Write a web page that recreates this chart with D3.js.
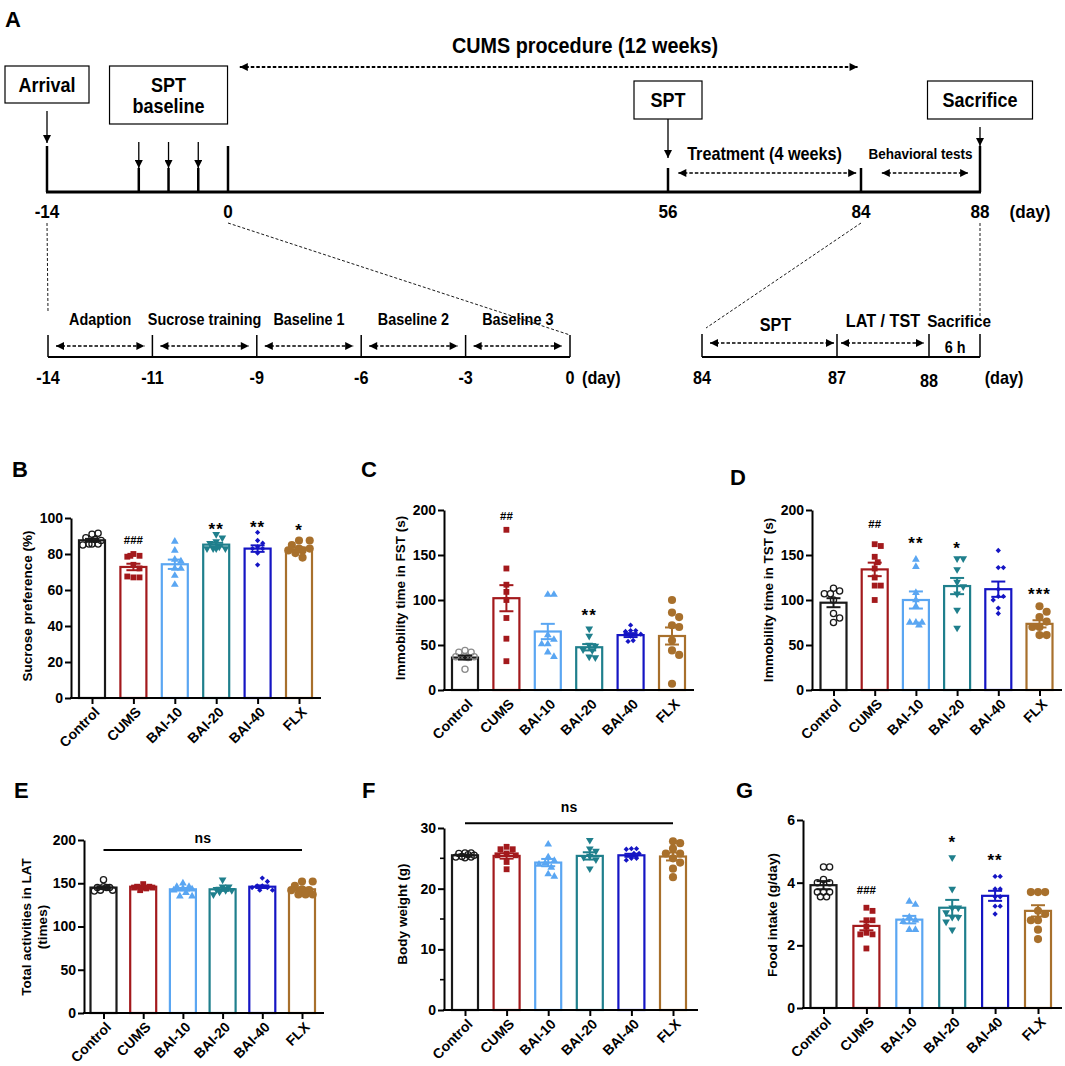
<!DOCTYPE html>
<html>
<head>
<meta charset="utf-8">
<script src="https://cdn.jsdelivr.net/npm/d3@7"></script>
<style>
  body { margin: 0; background: #fff; }
  svg { display: block; }
  text { font-family: "Liberation Sans", Arial, sans-serif; }
</style>
</head>
<body>
<svg id="fig" width="1065" height="1066"></svg>
<script>
// ---------- data ----------
const groups = ['Control', 'CUMS', 'BAI-10', 'BAI-20', 'BAI-40', 'FLX'];

// B: sucrose preference (%)
const sucroseMean = [87.6, 72.8, 74.3, 85.2, 83.0, 82.6];
const sucroseSem = [0.8, 1.8, 2.6, 1.0, 1.8, 1.0];
const sucrosePts = [
  [91, 91.5, 89, 88, 87.5, 85.5, 85, 85.5, 85.5],
  [80, 79, 78.5, 79, 74, 72, 67, 67, 67.5],
  [87, 82, 77, 76, 72, 72, 68, 63],
  [91, 89, 87, 86, 84, 83, 83, 83, 83],
  [92, 87.5, 86, 84, 83, 83, 80.5, 74],
  [87.5, 87.5, 85, 83, 83, 82, 82, 80.5, 78],
];
const sucroseMarks = ['', '###', '', '**', '**', '*'];
const sucroseMarkY = [0, 87.6, 0, 95.9, 97.2, 95.4];

// C: immobility time in FST (s)
const fstMean = [36, 102, 65, 47.5, 61, 60];
const fstSem = [2.2, 14.5, 8.5, 3.5, 2.2, 9.5];
const fstPts = [
  [44, 42, 42, 37, 37, 37, 36, 23],
  [178, 135, 117, 109, 100, 80, 57, 32],
  [106, 106, 61, 56, 51, 51, 42, 37],
  [68, 60, 50, 49, 45, 44, 37, 36],
  [72, 66, 66, 65, 62, 60, 55, 54],
  [100, 86, 81, 72, 70, 55, 44, 39, 7],
];
const fstMarks = ['', '##', '', '**', '', ''];
const fstMarkY = [0, 194, 0, 87, 0, 0];

// D: immobility time in TST (s)
const tstMean = [97, 134, 100, 115.5, 112, 73.5];
const tstSem = [5, 7.5, 9.5, 9, 8.5, 4];
const tstPts = [
  [113, 110, 107, 107, 100, 85, 80, 75],
  [162, 160, 148, 142, 135, 125, 116, 116, 100],
  [145, 137, 108, 100, 93, 75, 75, 75, 72],
  [146, 146, 134, 120, 115, 107, 89, 69],
  [155, 136, 136, 112, 104, 104, 100, 91, 85],
  [93, 87, 81, 76, 70, 70, 61, 61],
];
const tstMarks = ['', '##', '**', '*', '', '***'];
const tstMarkY = [0, 185, 166.7, 162, 0, 111];

// E: total activities in LAT (times)
const latMean = [145, 146, 143, 143, 146, 143];
const latSem = [1.5, 0.8, 1.5, 1.8, 1.5, 1.8];
const latPts = [
  [154, 146, 145, 145, 145, 142, 142, 141],
  [149, 146, 146, 145, 145, 145, 144, 142],
  [150, 146, 146, 144, 143, 142, 139, 135, 135],
  [154, 146, 146, 143, 142, 142, 140, 137],
  [156, 152, 147, 147, 145, 145, 142, 142],
  [152, 152, 147, 143, 142, 142, 137, 137, 137],
];

// F: body weight (g)
const bwMean = [25.5, 25.4, 24.3, 25.4, 25.5, 25.3];
const bwSem = [0.12, 0.45, 0.6, 0.6, 0.25, 0.65];
const bwPts = [
  [25.9, 25.9, 25.8, 25.6, 25.5, 25.3, 25.2, 25.2, 25.1],
  [26.9, 26.5, 26.5, 25.8, 25.5, 25.5, 24.4, 23.2],
  [27.3, 25.2, 24.6, 24.2, 24.0, 23.5, 22.4, 22.0],
  [28, 26.6, 26.2, 25.4, 25.2, 24.8, 23.3],
  [26.6, 26.6, 26.5, 25.8, 25.8, 25.0, 25.0, 24.7],
  [27.8, 27.5, 26.6, 25.8, 25.8, 25.0, 24.3, 23.3, 21.9],
];

// G: food intake (g/day)
const foodMean = [3.92, 2.62, 2.82, 3.2, 3.58, 3.1];
const foodSem = [0.13, 0.14, 0.12, 0.25, 0.16, 0.18];
const foodPts = [
  [4.5, 4.5, 4.1, 4.0, 4.0, 3.7, 3.7, 3.7, 3.55, 3.55],
  [3.2, 3.1, 2.8, 2.8, 2.6, 2.4, 2.35, 2.35, 1.9],
  [3.4, 3.3, 2.9, 2.8, 2.75, 2.5, 2.5],
  [4.8, 3.8, 3.2, 3.2, 3.05, 2.9, 2.9, 2.75, 2.5],
  [4.2, 4.2, 3.8, 3.8, 3.55, 3.55, 3.25, 3.25, 3.0],
  [3.7, 3.7, 3.7, 3.1, 3.0, 2.8, 2.8, 2.5, 2.2],
];
const foodMarks = ['', '###', '', '*', '**', ''];
const foodMarkY = [0, 3.77, 0, 5.41, 4.83, 0];

// A: timeline
const topDays = [-14, 0, 56, 84, 88];
const topDayLabels = ['-14', '0', '56', '84', '88'];
const sptBaselineDays = [-6.9, -4.6, -2.3];
const lowLeftDays = ['-14', '-11', '-9', '-6', '-3', '0'];
const lowLeftPhases = ['Adaption', 'Sucrose training', 'Baseline 1', 'Baseline 2', 'Baseline 3'];
const lowRightDays = [84, 87, 88, 89];
const lowRightLabels = ['84', '87', '88', ''];

// ---------- styles ----------
const colors = ['#1a1a1a', '#a3191c', '#5aa6f2', '#1f7f8c', '#1515c4', '#a8702c'];
const shapes = ['ocircle', 'square', 'triangle', 'tridown', 'diamond', 'circle'];
const font = '"Liberation Sans", Arial, sans-serif';

const svg = d3.select('#fig');
svg.append('rect').attr('width', 1065).attr('height', 1066).attr('fill', '#fff');

const defs = svg.append('defs');
defs.append('marker').attr('id', 'ah')
  .attr('viewBox', '0 0 10 10').attr('refX', 10).attr('refY', 5)
  .attr('markerWidth', 9).attr('markerHeight', 8)
  .attr('markerUnits', 'userSpaceOnUse').attr('orient', 'auto-start-reverse')
  .append('path').attr('d', 'M0,0L10,5L0,10z').attr('fill', '#000');
defs.append('marker').attr('id', 'ahs')
  .attr('viewBox', '0 0 10 10').attr('refX', 10).attr('refY', 5)
  .attr('markerWidth', 10).attr('markerHeight', 8)
  .attr('markerUnits', 'userSpaceOnUse').attr('orient', 'auto-start-reverse')
  .append('path').attr('d', 'M0,0L10,5L0,10z').attr('fill', '#000');

// ---------- panel A ----------
const A = svg.append('g');
A.append('text').attr('x', 5).attr('y', 27).text('A')
  .style('font-size', '22px').style('font-weight', 'bold');

const dayX = d3.scaleLinear().domain(topDays).range([47, 228, 668, 861, 980]);
const lineY = 192;

// slightly condensed bold text, like the narrow face of the original
function ntext(g, x, y, s, size, anchor) {
  return g.append('text').attr('transform', `translate(${x},${y}) scale(0.9,1)`)
    .attr('text-anchor', anchor || 'middle')
    .style('font-family', font).style('font-weight', 'bold').style('font-size', size + 'px').text(s);
}
function dashArrow(g, x1, x2, y, w) {
  g.append('line').attr('x1', x1).attr('x2', x2).attr('y1', y).attr('y2', y)
    .attr('stroke', '#000').attr('stroke-width', w || 1.6).attr('stroke-dasharray', '3.5,2')
    .attr('marker-start', 'url(#ah)').attr('marker-end', 'url(#ah)');
}
function downArrow(g, x, y1, y2) {
  g.append('line').attr('x1', x).attr('x2', x).attr('y1', y1).attr('y2', y2)
    .attr('stroke', '#000').attr('stroke-width', 1.3).attr('marker-end', 'url(#ahs)');
}

ntext(A, 585, 53, 'CUMS procedure (12 weeks)', 22);
dashArrow(A, dayX(1.5), dayX(83.5), 67, 1.8);

// boxes
const boxes = [
  { lines: ['Arrival'], day: -14, w: 84, h: 37, top: 66, arrow: [111, 143] },
  { lines: ['SPT', 'baseline'], day: -4.6, w: 118, h: 58, top: 66, arrow: null },
  { lines: ['SPT'], day: 56, w: 68, h: 38, top: 81, arrow: [119, 158] },
  { lines: ['Sacrifice'], day: 88, w: 105, h: 38, top: 81, arrow: [127, 146] },
];
boxes.forEach(b => {
  const cx = dayX(b.day);
  A.append('rect').attr('x', cx - b.w / 2).attr('y', b.top).attr('width', b.w).attr('height', b.h)
    .attr('fill', '#fff').attr('stroke', '#000').attr('stroke-width', 1.2);
  b.lines.forEach((s, i) => {
    const y0 = b.top + b.h / 2 + 7 - (b.lines.length - 1) * 10.5 + i * 21;
    ntext(A, cx, y0, s, 20);
  });
  if (b.arrow) downArrow(A, cx, b.arrow[0], b.arrow[1]);
});
sptBaselineDays.forEach(d => downArrow(A, dayX(d), 142, 168));

// main line and ticks
A.append('line').attr('x1', dayX(-14) - 1).attr('x2', dayX(88) + 1).attr('y1', lineY).attr('y2', lineY)
  .attr('stroke', '#000').attr('stroke-width', 3);
topDays.forEach((d, i) => {
  const tall = (d === -14 || d === 0 || d === 88);
  A.append('line').attr('x1', dayX(d)).attr('x2', dayX(d)).attr('y1', tall ? 146 : 168).attr('y2', lineY)
    .attr('stroke', '#000').attr('stroke-width', 2.5);
  ntext(A, dayX(d), 218, topDayLabels[i], 19);
});
sptBaselineDays.forEach(d => {
  A.append('line').attr('x1', dayX(d)).attr('x2', dayX(d)).attr('y1', 168).attr('y2', lineY)
    .attr('stroke', '#000').attr('stroke-width', 2.5);
});
ntext(A, 1030, 218, '(day)', 19);

ntext(A, (dayX(56) + dayX(84)) / 2, 160, 'Treatment (4 weeks)', 18);
dashArrow(A, dayX(57.5), dayX(83.3), 173);
ntext(A, (dayX(84) + dayX(88)) / 2, 159, 'Behavioral tests', 15);
dashArrow(A, dayX(84.7), dayX(87.6), 173);

// lower-left timeline
const llX = d3.scalePoint().domain(lowLeftDays).range([48, 570]);
const lowY = 357;
A.append('line').attr('x1', llX('-14')).attr('x2', llX('0')).attr('y1', lowY).attr('y2', lowY)
  .attr('stroke', '#000').attr('stroke-width', 2.2);
lowLeftDays.forEach((d, i) => {
  A.append('line').attr('x1', llX(d)).attr('x2', llX(d)).attr('y1', 335).attr('y2', lowY)
    .attr('stroke', '#000').attr('stroke-width', 1.5);
  ntext(A, llX(d), 384, d, 18);
  if (i < lowLeftPhases.length) {
    const x1 = llX(d), x2 = llX(lowLeftDays[i + 1]);
    ntext(A, (x1 + x2) / 2, 325, lowLeftPhases[i], 16);
    dashArrow(A, x1 + 8, x2 - 8, 346);
  }
});
ntext(A, llX('0') + 12, 384, '(day)', 18, 'start');

// lower-right timeline
const lrX = d3.scaleLinear().domain(lowRightDays).range([702, 837, 929, 980]);
A.append('line').attr('x1', lrX(84)).attr('x2', lrX(89)).attr('y1', lowY).attr('y2', lowY)
  .attr('stroke', '#000').attr('stroke-width', 2.2);
lowRightDays.forEach((d, i) => {
  A.append('line').attr('x1', lrX(d)).attr('x2', lrX(d)).attr('y1', 334).attr('y2', lowY)
    .attr('stroke', '#000').attr('stroke-width', 1.5);
  if (lowRightLabels[i]) ntext(A, lrX(d), d === 88 ? 387 : 384, lowRightLabels[i], 18);
});
ntext(A, 1004, 384, '(day)', 18);
ntext(A, (lrX(84) + lrX(87)) / 2 + 6, 331, 'SPT', 18);
dashArrow(A, lrX(84) + 8, lrX(87) - 3, 343);
ntext(A, (lrX(87) + lrX(88)) / 2, 327, 'LAT / TST', 18);
dashArrow(A, lrX(87) + 4, lrX(88) - 5, 343);
ntext(A, lrX(88.55) + 2, 327, 'Sacrifice', 17);
ntext(A, lrX(88.55) - 2, 353, '6 h', 16);

// zoom guide lines
const guide = (x1, y1, x2, y2) => A.append('line').attr('x1', x1).attr('y1', y1).attr('x2', x2).attr('y2', y2)
  .attr('stroke', '#000').attr('stroke-width', 0.9).attr('stroke-dasharray', '3,2');
guide(dayX(-14), 223, llX('-14'), 312);
guide(dayX(0), 223, llX('0'), 335);
guide(dayX(84), 223, lrX(84) + 4, 328);
guide(dayX(88), 223, lrX(89), 320);

// ---------- bar panels ----------
const panels = [
  { label: 'B', lx: 12, ly: 477, x0: 71, x1: 321, c0: 92, c1: 299, yZero: 698, yTop: 518,
    domain: [0, 100], ticks: [0, 20, 40, 60, 80, 100], minor: [], xTicks: true,
    title: ['Sucrose preference (%)'], tx: 27, ty: 606,
    mean: sucroseMean, sem: sucroseSem, pts: sucrosePts, marks: sucroseMarks, markY: sucroseMarkY },
  { label: 'C', lx: 361, ly: 477, x0: 444, x1: 694, c0: 465, c1: 672, yZero: 690, yTop: 510,
    domain: [0, 200], ticks: [0, 50, 100, 150, 200], minor: [], xTicks: false, grayCtrl: true,
    title: ['Immobility time in FST (s)'], tx: 400, ty: 598,
    mean: fstMean, sem: fstSem, pts: fstPts, marks: fstMarks, markY: fstMarkY },
  { label: 'D', lx: 730, ly: 485, x0: 812, x1: 1062, c0: 833.5, c1: 1039.5, yZero: 690, yTop: 510,
    domain: [0, 200], ticks: [0, 50, 100, 150, 200], minor: [], xTicks: true,
    title: ['Immobility time in TST (s)'], tx: 768, ty: 600,
    mean: tstMean, sem: tstSem, pts: tstPts, marks: tstMarks, markY: tstMarkY },
  { label: 'E', lx: 14, ly: 798, x0: 84, x1: 324, c0: 103.5, c1: 302, yZero: 1013, yTop: 840,
    domain: [0, 200], ticks: [0, 50, 100, 150, 200], minor: [], xTicks: true,
    title: ['Total activities in LAT', '(times)'], tx: 26, ty: 927,
    mean: latMean, sem: latSem, pts: latPts, ns: [188.5, 196] },
  { label: 'F', lx: 362, ly: 798, x0: 444, x1: 698, c0: 465, c1: 673, yZero: 1010, yTop: 828,
    domain: [0, 30], ticks: [0, 10, 20, 30], minor: [5, 15, 25], xTicks: true,
    title: ['Body weight (g)'], tx: 402, ty: 914,
    mean: bwMean, sem: bwSem, pts: bwPts, ns: [30.8, 32.6] },
  { label: 'G', lx: 736, ly: 798, x0: 803, x1: 1062, c0: 823.5, c1: 1038, yZero: 1008, yTop: 820,
    domain: [0, 6], ticks: [0, 2, 4, 6], minor: [], xTicks: true,
    title: ['Food intake (g/day)'], tx: 772, ty: 915,
    mean: foodMean, sem: foodSem, pts: foodPts, marks: foodMarks, markY: foodMarkY },
];

const barW = 26;

function symbolPath(shape) {
  if (shape === 'square') return d3.symbol(d3.symbolSquare, 34)();
  if (shape === 'triangle' || shape === 'tridown') return d3.symbol(d3.symbolTriangle, 26)();
  if (shape === 'diamond') return d3.symbol(d3.symbolSquare, 14)();
  if (shape === 'circle') return d3.symbol(d3.symbolCircle, 52)();
  return d3.symbol(d3.symbolCircle, 30)();
}

// spread points sideways inside the bar (beeswarm style, overlap allowed)
function swarm(vals, y, cx, r, maxOff) {
  const placed = [];
  const cands = [0];
  for (let k = 1; k * r * 0.85 <= maxOff; k++) cands.push(k * r * 0.85, -k * r * 0.85);
  return vals.map(v => {
    const py = y(v);
    let best = cx, bestD = -1;
    for (const off of cands) {
      const px = cx + off;
      const dmin = placed.length ? d3.min(placed, q => Math.hypot(q[0] - px, q[1] - py)) : Infinity;
      if (dmin >= 1.7 * r) { best = px; break; }
      if (dmin > bestD) { bestD = dmin; best = px; }
    }
    placed.push([best, py]);
    return [best, py];
  });
}

panels.forEach(p => {
  const g = svg.append('g');
  const x = d3.scalePoint().domain(groups).range([p.c0, p.c1]);
  const y = d3.scaleLinear().domain(p.domain).range([p.yZero, p.yTop]);

  g.append('text').attr('x', p.lx).attr('y', p.ly).text(p.label)
    .style('font-size', '22px').style('font-weight', 'bold');

  // bars
  g.selectAll('rect.bar').data(groups).join('rect').attr('class', 'bar')
    .attr('x', d => x(d) - barW / 2)
    .attr('y', (d, i) => y(p.mean[i]))
    .attr('width', barW)
    .attr('height', (d, i) => y(0) - y(p.mean[i]))
    .attr('fill', '#fff')
    .attr('stroke', (d, i) => colors[i])
    .attr('stroke-width', 2.2);

  // points
  groups.forEach((grp, i) => {
    const r = shapes[i] === 'circle' ? 4.2 : shapes[i] === 'diamond' ? 3 : 3.6;
    const pos = swarm(p.pts[i], y, x(grp), r, 11);
    const col = (i === 0 && p.grayCtrl) ? '#8c8c8c' : colors[i];
    g.selectAll(null).data(pos).join('path')
      .attr('d', symbolPath(shapes[i]))
      .attr('transform', d => `translate(${d[0]},${d[1]})` +
        (shapes[i] === 'tridown' ? ' rotate(180)' : shapes[i] === 'diamond' ? ' rotate(45)' : ''))
      .attr('fill', shapes[i] === 'ocircle' ? 'none' : col)
      .attr('stroke', shapes[i] === 'ocircle' ? col : 'none')
      .attr('stroke-width', 1.3);
  });

  // error bars (mean ± SEM)
  groups.forEach((grp, i) => {
    const cx = x(grp), lo = y(p.mean[i] - p.sem[i]), hi = y(p.mean[i] + p.sem[i]);
    const eb = g.append('g').attr('stroke', colors[i]).attr('stroke-width', 2);
    eb.append('line').attr('x1', cx).attr('x2', cx).attr('y1', lo).attr('y2', hi);
    eb.append('line').attr('x1', cx - 7).attr('x2', cx + 7).attr('y1', lo).attr('y2', lo);
    eb.append('line').attr('x1', cx - 7).attr('x2', cx + 7).attr('y1', hi).attr('y2', hi);
  });

  // y axis
  const ya = g.append('g').attr('transform', `translate(${p.x0},0)`)
    .call(d3.axisLeft(y).tickValues(p.ticks).tickFormat(d3.format('d'))
      .tickSize(6).tickSizeOuter(0).tickPadding(2));
  ya.select('.domain').attr('stroke-width', 2).attr('stroke', '#000');
  ya.selectAll('.tick line').attr('stroke-width', 2).attr('stroke', '#000');
  ya.selectAll('.tick text').style('font-size', '14px').style('font-weight', 'bold')
    .style('font-family', font).attr('fill', '#000');
  p.minor.forEach(v => {
    g.append('line').attr('x1', p.x0 - 4).attr('x2', p.x0).attr('y1', y(v)).attr('y2', y(v))
      .attr('stroke', '#000').attr('stroke-width', 1.6);
  });

  // x axis
  g.append('line').attr('x1', p.x0 - 1).attr('x2', p.x1).attr('y1', p.yZero).attr('y2', p.yZero)
    .attr('stroke', '#000').attr('stroke-width', 2);
  const xa = g.append('g').attr('transform', `translate(0,${p.yZero})`)
    .call(d3.axisBottom(x).tickSize(p.xTicks ? 6 : 0).tickSizeOuter(0));
  xa.select('.domain').remove();
  xa.selectAll('.tick line').attr('stroke-width', 2).attr('stroke', '#000');
  xa.selectAll('.tick text')
    .attr('x', 0).attr('y', 0).attr('dy', 0)
    .attr('transform', 'translate(8,15) rotate(-45)')
    .attr('text-anchor', 'end').attr('fill', '#000')
    .style('font-size', '14px').style('font-weight', 'bold')
    .style('font-family', font);

  // axis title
  p.title.forEach((t, k) => {
    g.append('text')
      .attr('transform', `translate(${p.tx + k * 16},${p.ty}) rotate(-90)`)
      .attr('text-anchor', 'middle').attr('dy', '0.35em')
      .style('font-size', '13.5px').style('font-weight', 'bold').text(t);
  });

  // significance marks
  if (p.marks) {
    groups.forEach((grp, i) => {
      const s = p.marks[i];
      if (!s) return;
      const star = s[0] === '*';
      const fs = star ? 17 : 11.5;
      g.append('text').attr('x', x(grp)).attr('y', y(p.markY[i]) + (star ? 0.56 : 0.36) * fs)
        .attr('text-anchor', 'middle').style('font-size', fs + 'px').style('font-weight', 'bold')
        .attr('letter-spacing', star ? '1px' : '0px').text(s);
    });
  }
  if (p.ns) {
    g.append('line').attr('x1', x('Control')).attr('x2', x('FLX'))
      .attr('y1', y(p.ns[0])).attr('y2', y(p.ns[0])).attr('stroke', '#000').attr('stroke-width', 2);
    g.append('text').attr('x', (x('Control') + x('FLX')) / 2).attr('y', y(p.ns[1]))
      .attr('text-anchor', 'middle').style('font-size', '14px').style('font-weight', 'bold').text('ns');
  }
});
</script>
</body>
</html>
